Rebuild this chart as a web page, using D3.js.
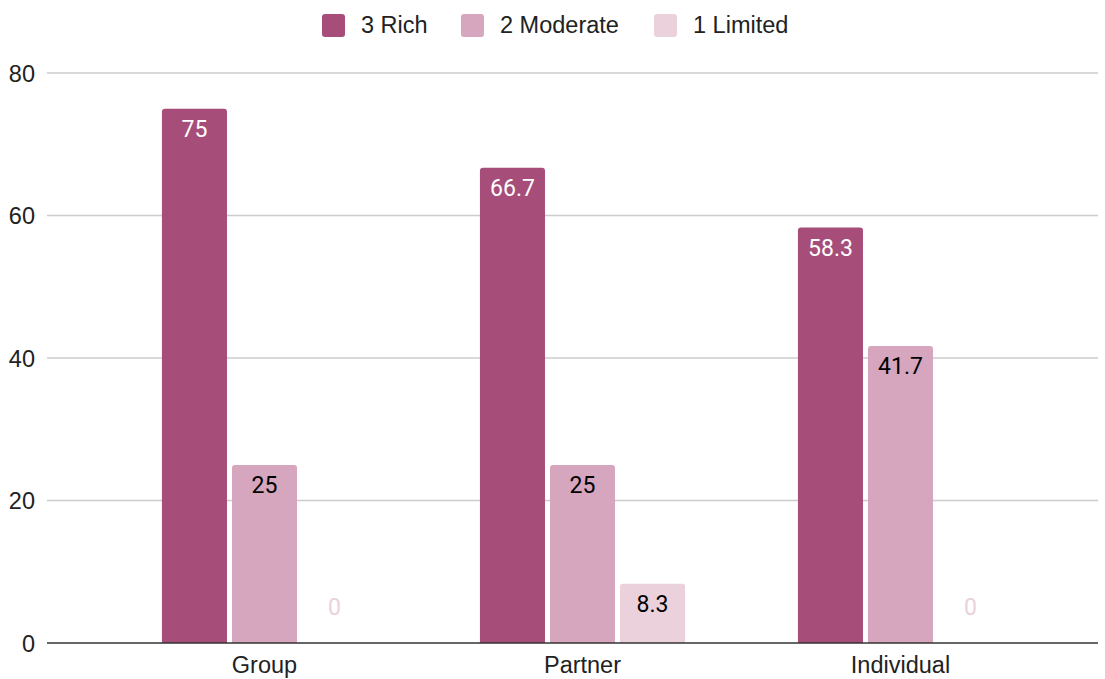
<!DOCTYPE html>
<html>
<head>
<meta charset="utf-8">
<script src="https://cdn.jsdelivr.net/npm/d3@7"></script>
<style>
  html, body { margin: 0; padding: 0; background: #fff; }
  svg { display: block; }
</style>
</head>
<body>
<svg id="chart" width="1105" height="679"></svg>
<script>
const categories = ["Group", "Partner", "Individual"];
const seriesNames = ["3 Rich", "2 Moderate", "1 Limited"];
const richValues = [75, 66.7, 58.3];
const moderateValues = [25, 25, 41.7];
const limitedValues = [0, 8.3, 0];
const yTicks = [0, 20, 40, 60, 80];
const seriesColors = ["#a64d79", "#d5a6bd", "#ead1dc"];
const labelColors = ["#ffffff", "#000000", "#000000"];

const seriesValues = [richValues, moderateValues, limitedValues];

const svg = d3.select("#chart");
const gridLeft = 47, gridRight = 1098;
const axisFont = "'Liberation Sans', Arial, Helvetica, sans-serif";
const labelFont = "Roboto, 'Liberation Sans', sans-serif";

const y = d3.scaleLinear().domain([0, 80]).range([643, 73]);
const x0 = d3.scaleBand().domain(categories).range([105.5, 1059.5])
  .paddingInner(0.355).paddingOuter(0.1775);
const x1 = d3.scaleBand().domain(seriesNames).range([0, x0.bandwidth()])
  .paddingInner(0.0714);

// gridlines
svg.append("g").selectAll("line").data(yTicks.filter(d => d !== 0)).join("line")
  .attr("x1", gridLeft).attr("x2", gridRight)
  .attr("y1", d => y(d)).attr("y2", d => y(d))
  .attr("stroke", "#cccccc").attr("stroke-width", 1.5);

// y tick labels
svg.append("g").selectAll("text").data(yTicks).join("text")
  .attr("x", 35).attr("y", d => y(d) + 8.5)
  .attr("text-anchor", "end")
  .attr("font-family", axisFont).attr("font-size", 23.5)
  .attr("fill", "#222")
  .text(d => d);

// bars
function barPath(x, yTop, w, h, r) {
  if (h <= 0) return "";
  r = Math.min(r, h, w / 2);
  return `M${x},${yTop + h}V${yTop + r}Q${x},${yTop} ${x + r},${yTop}H${x + w - r}Q${x + w},${yTop} ${x + w},${yTop + r}V${yTop + h}Z`;
}

const data = [];
categories.forEach((c, ci) => {
  seriesNames.forEach((s, si) => {
    data.push({ cat: c, series: s, si, value: seriesValues[si][ci] });
  });
});

svg.append("g").selectAll("path").data(data).join("path")
  .attr("d", d => barPath(x0(d.cat) + x1(d.series), y(d.value), x1.bandwidth(), y(0) - y(d.value), 3))
  .attr("fill", d => seriesColors[d.si]);

// data labels
svg.append("g").selectAll("text").data(data).join("text")
  .attr("x", d => x0(d.cat) + x1(d.series) + x1.bandwidth() / 2)
  .attr("y", d => d.value > 0 ? y(d.value) + 28 : y(0) - 28)
  .attr("text-anchor", "middle")
  .attr("font-family", labelFont).attr("font-size", 23)
  .attr("fill", d => d.value > 0 ? labelColors[d.si] : seriesColors[d.si])
  .text(d => d.value);

// baseline
svg.append("line")
  .attr("x1", gridLeft).attr("x2", gridRight)
  .attr("y1", y(0)).attr("y2", y(0))
  .attr("stroke", "#333").attr("stroke-width", 1.5);

// category labels
svg.append("g").selectAll("text").data(categories).join("text")
  .attr("x", d => x0(d) + x0.bandwidth() / 2)
  .attr("y", 673)
  .attr("text-anchor", "middle")
  .attr("font-family", axisFont).attr("font-size", 23.5)
  .attr("fill", "#222")
  .text(d => d);

// legend
const legendX = [322, 461, 654];
const lg = svg.append("g").selectAll("g").data(seriesNames).join("g")
  .attr("transform", (d, i) => `translate(${legendX[i]},14)`);
lg.append("rect").attr("width", 23).attr("height", 23).attr("rx", 3)
  .attr("fill", (d, i) => seriesColors[i]);
lg.append("text").attr("x", 39).attr("y", 19)
  .attr("font-family", axisFont).attr("font-size", 23.5)
  .attr("fill", "#222")
  .text(d => d);
</script>
</body>
</html>
